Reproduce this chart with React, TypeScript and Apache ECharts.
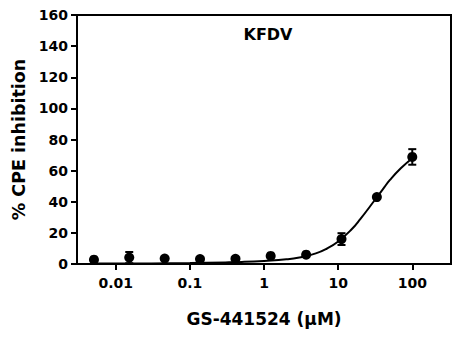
import React, { useEffect, useRef } from "react";
import * as echarts from "echarts";

const concentrations = [0.00508, 0.0152, 0.0457, 0.137, 0.412, 1.23, 3.7, 11.1, 33.3, 100];
const meanInhibition = [2.8, 4.1, 3.5, 3.2, 3.3, 5.2, 6.0, 16.0, 43.0, 68.8];
const errorSD = [0, 3.6, 0, 0, 0, 0, 0, 3.8, 0, 5.0];
const curveX = [0.005, 0.03, 0.1, 0.3, 0.5, 1, 2, 3, 5, 7, 10, 15, 20, 30, 40, 50, 70, 100];
const curveY = [0.3, 0.4, 0.6, 1.0, 1.3, 2.0, 3.0, 4.2, 6.8, 9.8, 14.5, 22, 29, 40, 48, 54, 61.5, 68];
const xTickValues = [0.01, 0.1, 1, 10, 100];
const yTicks = { min: 0, max: 160, interval: 20 };

const FONT = "'DejaVu Sans', 'Liberation Sans', Arial, sans-serif";

export default function App() {
  const ref = useRef<HTMLDivElement>(null);
  useEffect(() => {
    if (!ref.current) return;
    const chart = echarts.init(ref.current, null, { renderer: "svg" });
    const points = concentrations.map((c, i) => [c, meanInhibition[i]]);
    const errData = concentrations
      .map((c, i) => [c, meanInhibition[i] - errorSD[i], meanInhibition[i] + errorSD[i], errorSD[i]])
      .filter((d) => d[3] > 0);
    const curve = curveX.map((x, i) => [x, curveY[i]]);
    chart.setOption({
      animation: false,
      backgroundColor: "#fff",
      title: {
        text: "KFDV",
        left: 263,
        top: 21,
        textAlign: "center",
        textStyle: { fontFamily: FONT, fontWeight: "bold", fontSize: 16, color: "#000" },
      },
      grid: {
        left: 77,
        right: 7,
        top: 15,
        bottom: 73,
        show: true,
        borderColor: "#000",
        borderWidth: 2,
        containLabel: false,
      },
      xAxis: {
        type: "log",
        logBase: 10,
        min: 0.003,
        max: 333,
        name: "GS-441524 (\u03bcM)",
        nameLocation: "middle",
        nameGap: 46,
        nameTextStyle: { fontFamily: FONT, fontWeight: "bold", fontSize: 17, color: "#000" },
        axisLine: { lineStyle: { color: "#000", width: 2 } },
        axisTick: { show: true, length: 6, lineStyle: { color: "#000", width: 2 }, customValues: xTickValues },
        minorTick: { show: false },
        axisLabel: {
          customValues: xTickValues,
          margin: 12,
          fontFamily: FONT,
          fontWeight: "bold",
          fontSize: 14,
          color: "#000",
          formatter: (v: number) => String(v),
        },
        splitLine: { show: false },
      },
      yAxis: {
        type: "value",
        min: yTicks.min,
        max: yTicks.max,
        interval: yTicks.interval,
        name: "% CPE inhibition",
        nameLocation: "middle",
        nameGap: 48,
        nameTextStyle: { fontFamily: FONT, fontWeight: "bold", fontSize: 17.5, color: "#000" },
        axisLine: { show: true, lineStyle: { color: "#000", width: 2 } },
        axisTick: { show: true, length: 6, lineStyle: { color: "#000", width: 2 } },
        axisLabel: { margin: 9, fontFamily: FONT, fontWeight: "bold", fontSize: 14, color: "#000" },
        splitLine: { show: false },
      },
      series: [
        {
          type: "line",
          data: curve,
          smooth: true,
          showSymbol: false,
          symbol: "none",
          lineStyle: { color: "#000", width: 2 },
          z: 2,
        },
        {
          type: "custom",
          data: errData,
          z: 3,
          renderItem: (params: any, api: any) => {
            const x = api.value(0);
            const top = api.coord([x, api.value(2)]);
            const bot = api.coord([x, api.value(1)]);
            const hw = 4;
            const style = { stroke: "#000", lineWidth: 2 };
            return {
              type: "group",
              children: [
                { type: "line", shape: { x1: top[0], y1: top[1], x2: bot[0], y2: bot[1] }, style },
                { type: "line", shape: { x1: top[0] - hw, y1: top[1], x2: top[0] + hw, y2: top[1] }, style },
                { type: "line", shape: { x1: bot[0] - hw, y1: bot[1], x2: bot[0] + hw, y2: bot[1] }, style },
              ],
            };
          },
        },
        {
          type: "scatter",
          data: points,
          symbol: "circle",
          symbolSize: 10,
          itemStyle: { color: "#000", opacity: 1 },
          z: 4,
        },
      ],
    });
    return () => chart.dispose();
  }, []);
  return <div ref={ref} style={{ position: "fixed", left: 0, top: 0, width: 458, height: 337 }} />;
}
